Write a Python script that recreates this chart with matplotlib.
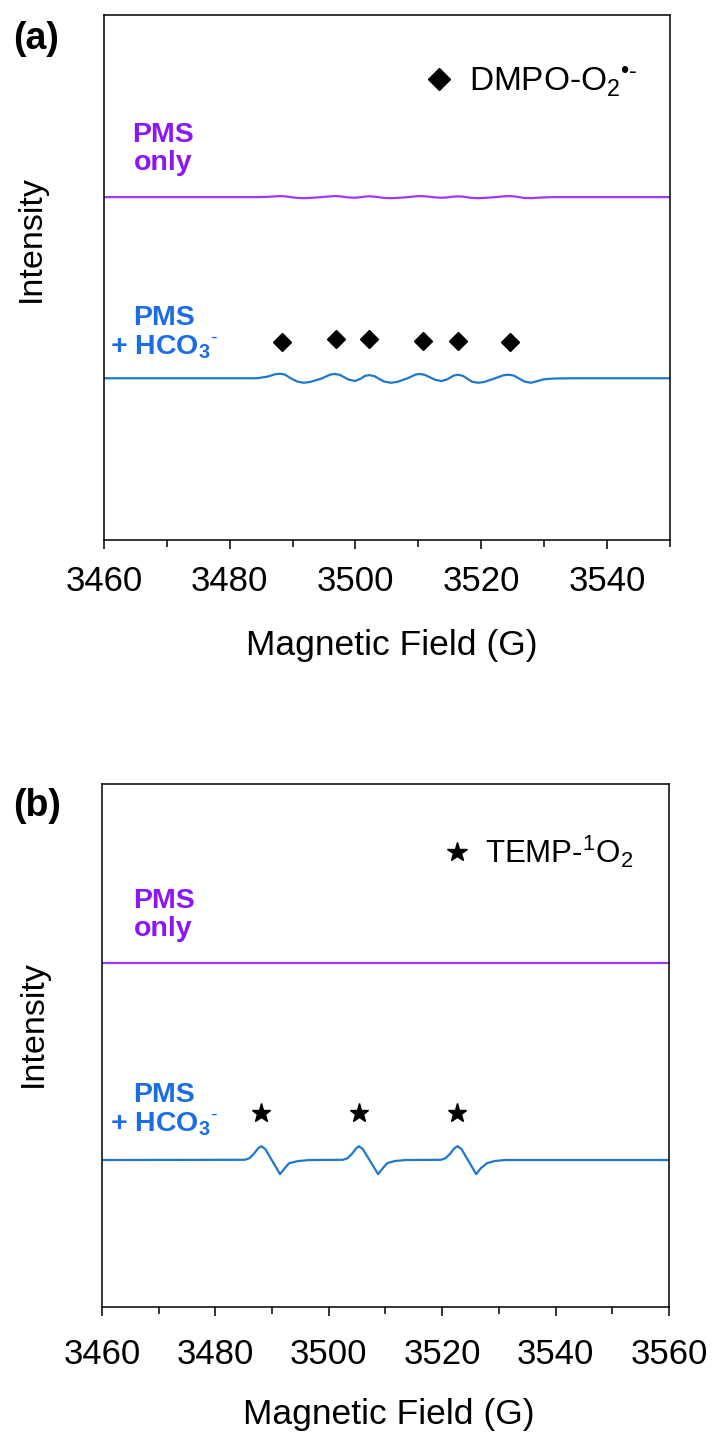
import matplotlib
matplotlib.use("Agg")
import matplotlib.pyplot as plt
from matplotlib.lines import Line2D
from matplotlib.ticker import MultipleLocator

plt.rcParams['font.family'] = ['Liberation Sans', 'DejaVu Sans']
plt.rcParams['mathtext.fontset'] = 'custom'
plt.rcParams['mathtext.rm'] = 'Liberation Sans'
plt.rcParams['mathtext.it'] = 'Liberation Sans:italic'
plt.rcParams['mathtext.bf'] = 'Liberation Sans:bold'

# ---------------- (a) DMPO spin trap ----------------
dmpo_field = [3460, 3484.3, 3486.0, 3487.2, 3488.0, 3488.8, 3489.7, 3490.8, 3491.8,
              3492.8, 3494.5, 3496.0, 3496.7, 3497.5, 3498.8, 3499.9, 3500.8, 3501.5,
              3502.2, 3503.0, 3504.5, 3505.6, 3506.6, 3508.3, 3509.6, 3510.3, 3511.1,
              3512.7, 3513.7, 3514.6, 3515.6, 3516.3, 3517.1, 3518.5, 3519.5, 3520.5,
              3522.2, 3523.6, 3524.4, 3525.2, 3526.8, 3527.9, 3528.9, 3529.9, 3531.5,
              3534.5, 3550]
dmpo_hco3 = [0, 0, 0.3, 0.75, 0.86, 0.7, 0.0, -0.65, -0.86,
             -0.7, -0.1, 0.7, 0.82, 0.65, -0.2, -0.53, -0.1, 0.45,
             0.6, 0.4, -0.6, -0.86, -0.7, 0.0, 0.72, 0.82, 0.6,
             -0.3, -0.53, -0.2, 0.5, 0.67, 0.45, -0.65, -0.86, -0.7,
             0.0, 0.6, 0.67, 0.5, -0.6, -0.86, -0.55, -0.2, -0.05,
             0, 0]
dmpo_pms = [0, 0, 0.05, 0.15, 0.2, 0.15, 0.0, -0.15, -0.2,
            -0.15, 0.0, 0.15, 0.2, 0.15, -0.05, -0.12, -0.02, 0.1,
            0.15, 0.1, -0.15, -0.2, -0.15, 0.0, 0.15, 0.2, 0.15,
            -0.05, -0.12, -0.05, 0.1, 0.15, 0.1, -0.15, -0.2, -0.15,
            0.0, 0.15, 0.2, 0.15, -0.15, -0.2, -0.12, -0.05, 0.0,
            0, 0]
dmpo_peak_field = [3488.3, 3496.9, 3502.1, 3510.7, 3516.3, 3524.6]
dmpo_peak_mark = [37.8, 38.3, 38.3, 37.9, 37.9, 37.7]

# ---------------- (b) TEMP spin trap ----------------
temp_field = [3460, 3485.2, 3486.0, 3486.8, 3487.5, 3488.1, 3488.8, 3491.4, 3492.2, 3493.0,
              3494.6, 3496.5,
              3502.5, 3503.3, 3504.1, 3504.8, 3505.3, 3506.0, 3508.7, 3509.5, 3510.3,
              3511.6, 3513.5,
              3519.8, 3520.6, 3521.4, 3522.1, 3522.7, 3523.4, 3526.0, 3526.8, 3527.9,
              3529.2, 3531.0,
              3560]
temp_hco3 = [0, 0.05, 0.35, 1.2, 2.2, 2.65, 2.1, -2.7, -1.6, -0.6,
             -0.2, 0,
             0.05, 0.35, 1.2, 2.2, 2.65, 2.1, -2.7, -1.6, -0.6,
             -0.2, 0,
             0.05, 0.35, 1.2, 2.2, 2.65, 2.1, -2.7, -1.6, -0.6,
             -0.2, 0,
             0]
temp_pms = [0] * len(temp_field)
temp_peak_field = [3488.0, 3505.4, 3522.7]
temp_peak_mark = [37.1, 37.1, 37.1]

# vertical stacking of the traces (a.u.)
offsets_a = {'pms': 65.3, 'hco3': 30.8}
offsets_b = {'pms': 65.8, 'hco3': 28.1}

PURPLE_LINE = '#9E3BF2'
PURPLE_TEXT = '#8C16F5'
BLUE_LINE = '#1F78CC'
BLUE_TEXT = '#1A6DE6'

fig = plt.figure(figsize=(7.14, 14.38), dpi=100)
ax_a = fig.add_axes([0.1454, 0.6245, 0.793, 0.3651])
ax_b = fig.add_axes([0.1429, 0.0911, 0.794, 0.3637])


def style_axis(ax, xmin, xmax, pad):
    ax.set_xlim(xmin, xmax)
    ax.set_ylim(0, 100)
    ax.xaxis.set_major_locator(MultipleLocator(20))
    ax.xaxis.set_minor_locator(MultipleLocator(10))
    ax.tick_params(axis='x', which='major', direction='out', length=6.5, width=1.1,
                   labelsize=25, pad=pad)
    ax.tick_params(axis='x', which='minor', direction='out', length=5, width=1.1)
    ax.tick_params(axis='y', left=False, labelleft=False)
    for sp in ax.spines.values():
        sp.set_linewidth(1.1)


# panel (a)
style_axis(ax_a, 3460, 3550, 11.5)
ax_a.plot(dmpo_field, [offsets_a['pms'] + v for v in dmpo_pms], color=PURPLE_LINE, lw=1.6)
ax_a.plot(dmpo_field, [offsets_a['hco3'] + v for v in dmpo_hco3], color=BLUE_LINE, lw=1.6)
ax_a.plot(dmpo_peak_field, dmpo_peak_mark, ls='none', marker='D', ms=9, color='black')
ax_a.text(0.1046, 0.745, 'PMS\nonly', transform=ax_a.transAxes, ha='center', va='center',
          fontsize=20.5, fontweight='bold', color=PURPLE_TEXT, linespacing=1.1)
ax_a.text(0.106, 0.394, 'PMS\n+ HCO$_\\mathbf{3}{}^\\text{-}$', transform=ax_a.transAxes,
          ha='center', va='center', fontsize=20.5, fontweight='bold', color=BLUE_TEXT,
          linespacing=1.1)
h_a = Line2D([], [], ls='none', marker='D', ms=11, color='black',
             label='DMPO-O$_2{}^\\text{\u2022-}$')
ax_a.legend(handles=[h_a], loc='center left', bbox_to_anchor=(0.563, 0.874),
            frameon=False, fontsize=24, handlelength=1.0, handletextpad=0.4,
            borderpad=0, borderaxespad=0)

# panel (b)
style_axis(ax_b, 3460, 3560, 15.5)
ax_b.plot(temp_field, [offsets_b['pms'] + v for v in temp_pms], color=PURPLE_LINE, lw=1.6)
ax_b.plot(temp_field, [offsets_b['hco3'] + v for v in temp_hco3], color=BLUE_LINE, lw=1.6)
ax_b.plot(temp_peak_field, temp_peak_mark, ls='none', marker='*', ms=14, color='black')
ax_b.text(0.1086, 0.7495, 'PMS\nonly', transform=ax_b.transAxes, ha='center', va='center',
          fontsize=20.5, fontweight='bold', color=PURPLE_TEXT, linespacing=1.1)
ax_b.text(0.109, 0.3767, 'PMS\n+ HCO$_\\mathbf{3}{}^\\text{-}$', transform=ax_b.transAxes,
          ha='center', va='center', fontsize=20.5, fontweight='bold', color=BLUE_TEXT,
          linespacing=1.1)
h_b = Line2D([], [], ls='none', marker='*', ms=15, color='black',
             label='TEMP-${}^1$O$_2$')
ax_b.legend(handles=[h_b], loc='center left', bbox_to_anchor=(0.599, 0.87),
            frameon=False, fontsize=22.5, handlelength=1.0, handletextpad=0.4,
            borderpad=0, borderaxespad=0)

# axis titles and panel letters
fig.text(0.044, 1 - 239 / 1438, 'Intensity', rotation=90, ha='center', va='center', fontsize=24.5)
fig.text(0.0472, 1 - 1024 / 1438, 'Intensity', rotation=90, ha='center', va='center', fontsize=24.5)
fig.text(391.6 / 714, 1 - 645.7 / 1438, 'Magnetic Field (G)', ha='center', va='center', fontsize=25.5)
fig.text(389.3 / 714, 1 - 1414.4 / 1438, 'Magnetic Field (G)', ha='center', va='center', fontsize=25.5)
fig.text(36 / 714, 1 - 39 / 1438, '(a)', ha='center', va='center', fontsize=27, fontweight='bold')
fig.text(37 / 714, 1 - 806.5 / 1438, '(b)', ha='center', va='center', fontsize=27, fontweight='bold')

fig.savefig('out.png', dpi=100)
